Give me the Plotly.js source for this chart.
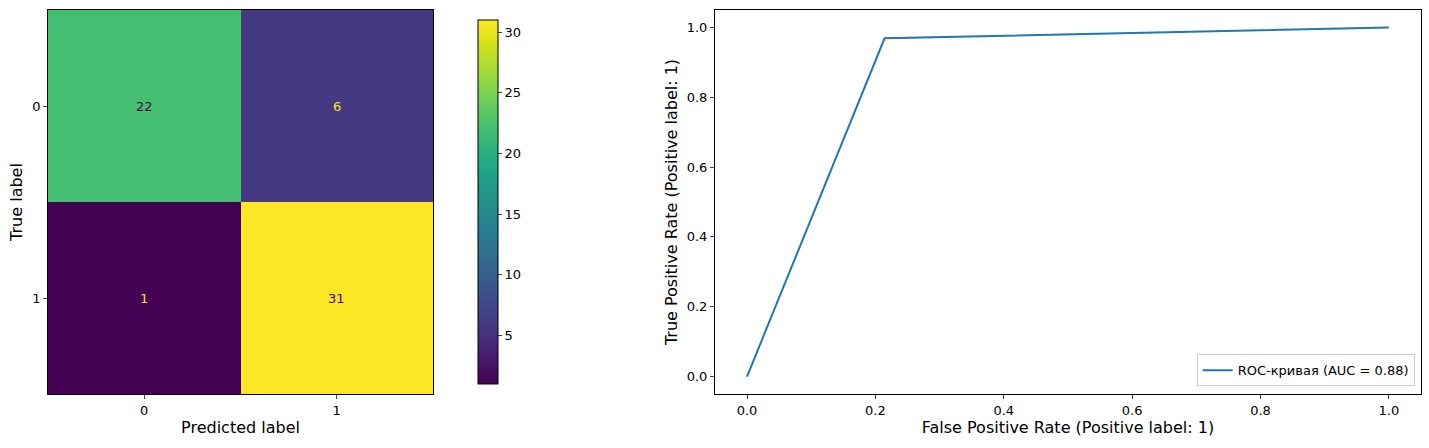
<!DOCTYPE html>
<html><head><meta charset="utf-8">
<script src="https://cdn.plot.ly/plotly-3.0.1.min.js"></script>
<style>body{margin:0}</style></head>
<body><div id="chart" style="width:1429px;height:448px"></div>
<script>
var classes = [0, 1];
var matrix = [[22, 6], [1, 31]];
var fpr = [0, 0.2143, 1];
var tpr = [0, 0.96875, 1];
var aucLabel = 'ROC-кривая (AUC = 0.88)';

var annos = [];
for (let i = 0; i < 2; i++) {
    for (let j = 0; j < 2; j++) {
        let v = matrix[i][j];
        annos.push({x: classes[j], y: classes[i], xref: 'x', yref: 'y', text: String(v),
            showarrow: false, font: {size: 13, color: v > 16 ? '#440154' : '#fde725'}});
    }
}

var heat = {
    type: 'heatmap', x: classes, y: classes, z: matrix, colorscale: 'Viridis',
    zmin: 1, zmax: 31, xaxis: 'x', yaxis: 'y', hoverinfo: 'z',
    colorbar: {x: 0.3275, xanchor: 'left', y: 0, yanchor: 'bottom', len: 1, thickness: 20,
        outlinewidth: 1, outlinecolor: '#000', tickvals: [5, 10, 15, 20, 25, 30],
        ticks: 'outside', ticklen: 4, tickfont: {size: 13, color: '#000'}}
};

var roc = {
    type: 'scatter', mode: 'lines', x: fpr, y: tpr, xaxis: 'x2', yaxis: 'y2',
    name: aucLabel, line: {color: '#1f77b4', width: 2}
};

var ax = {showline: true, mirror: true, linecolor: '#000', ticks: 'outside', ticklen: 4,
    showgrid: false, zeroline: false, tickfont: {size: 13, color: '#000'}};

var layout = {
    margin: {l: 0, r: 0, t: 10, b: 54},
    font: {family: 'DejaVu Sans', size: 13, color: '#000'},
    paper_bgcolor: '#fff', plot_bgcolor: '#fff',
    xaxis: Object.assign({}, ax, {domain: [0.0336, 0.303], range: [-0.5, 1.5], tickvals: classes,
        title: {text: 'Predicted label', standoff: 5}}),
    yaxis: Object.assign({}, ax, {domain: [0, 1], range: [1.5, -0.5], tickvals: classes,
        title: {text: 'True label', standoff: 5}}),
    xaxis2: Object.assign({}, ax, {domain: [0.5003, 0.9944], anchor: 'y2', range: [-0.05, 1.05],
        tickvals: [0, 0.2, 0.4, 0.6, 0.8, 1], ticktext: ['0.0', '0.2', '0.4', '0.6', '0.8', '1.0'],
        title: {text: 'False Positive Rate (Positive label: 1)', standoff: 5}}),
    yaxis2: Object.assign({}, ax, {domain: [0, 1], anchor: 'x2', range: [-0.05, 1.05],
        tickvals: [0, 0.2, 0.4, 0.6, 0.8, 1], ticktext: ['0.0', '0.2', '0.4', '0.6', '0.8', '1.0'],
        title: {text: 'True Positive Rate (Positive label: 1)', standoff: 5}}),
    showlegend: true,
    legend: {x: 0.99, xanchor: 'right', y: 0.02, yanchor: 'bottom', bordercolor: '#ccc',
        borderwidth: 1, font: {size: 13}},
    annotations: annos
};

Plotly.newPlot('chart', [heat, roc], layout, {displayModeBar: false});
</script></body></html>
